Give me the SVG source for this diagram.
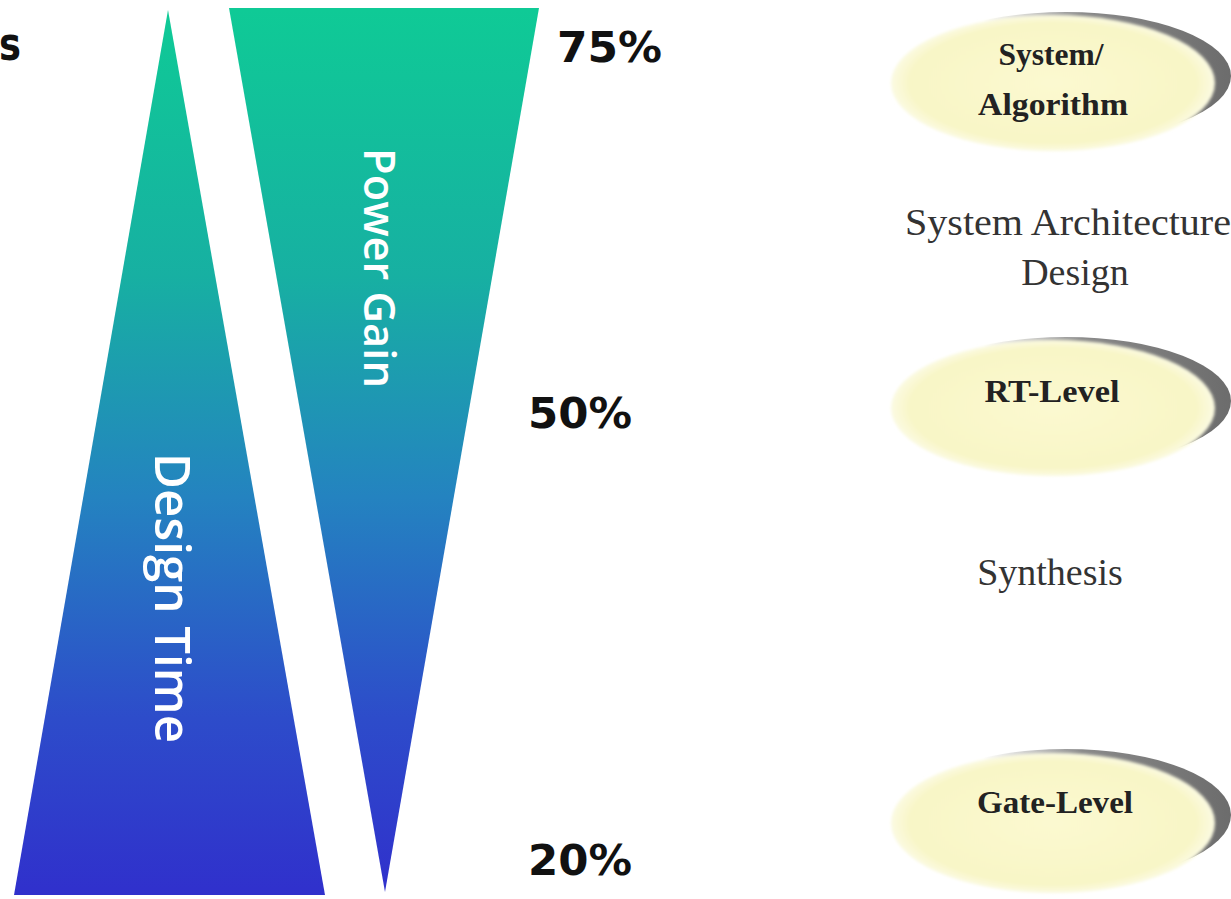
<svg xmlns="http://www.w3.org/2000/svg" width="1231" height="899" viewBox="0 0 1231 899">
  <defs>
    <linearGradient id="tri" gradientUnits="userSpaceOnUse" x1="0" y1="10" x2="0" y2="895">
      <stop offset="0" stop-color="#0fca96"/>
      <stop offset="0.3" stop-color="#17b0a2"/>
      <stop offset="0.55" stop-color="#2483c0"/>
      <stop offset="0.8" stop-color="#2d4cca"/>
      <stop offset="1" stop-color="#3030cc"/>
    </linearGradient>
    <radialGradient id="yel" cx="0.5" cy="0.5" r="0.5">
      <stop offset="0" stop-color="#fbf9d0"/>
      <stop offset="0.88" stop-color="#f8f6c6"/>
      <stop offset="1" stop-color="#fbfae2"/>
    </radialGradient>
    <linearGradient id="shd" x1="0" y1="0" x2="1" y2="0">
      <stop offset="0.25" stop-color="#ffffff"/>
      <stop offset="0.55" stop-color="#8a8a8a"/>
      <stop offset="1" stop-color="#6c6c6c"/>
    </linearGradient>
    <filter id="soft" x="-5%" y="-5%" width="110%" height="110%">
      <feGaussianBlur stdDeviation="1.5"/>
    </filter>
  </defs>
  <style>
    .pct { font-family: "DejaVu Sans", Verdana, sans-serif; font-weight: bold; font-size: 43px; fill: #111; }
    .vert { font-family: "Open Sans", "DejaVu Sans", sans-serif; font-weight: 600; fill: #ffffff; }
    .node { font-family: "Liberation Serif", "Times New Roman", serif; font-weight: bold; font-size: 32px; fill: #222; text-anchor: middle; }
    .lbl { font-family: "Liberation Serif", "Times New Roman", serif; font-size: 38px; fill: #333; }
    .shadow { fill: url(#shd); }
    .fill { fill: url(#yel); filter: url(#soft); }
  </style>
  <rect width="1231" height="899" fill="#ffffff"/>

  <text x="-1" y="60" font-family="DejaVu Sans, sans-serif" font-weight="bold" font-size="46" fill="#111" textLength="22" lengthAdjust="spacingAndGlyphs">s</text>

  <g id="design-time">
    <polygon points="168,10 14,895 325,895" fill="url(#tri)"/>
    <text class="vert" transform="translate(155,453) rotate(90)" font-size="48" textLength="290" lengthAdjust="spacingAndGlyphs">Design Time</text>
  </g>
  <g id="power-gain">
    <polygon points="229,8 539,8 385,892" fill="url(#tri)"/>
    <text class="vert" transform="translate(364,148) rotate(90)" font-size="44" textLength="240" lengthAdjust="spacingAndGlyphs">Power Gain</text>
  </g>

  <g id="percentages">
    <text class="pct" x="557" y="62" textLength="105" lengthAdjust="spacingAndGlyphs">75%</text>
    <text class="pct" x="528" y="428" textLength="104" lengthAdjust="spacingAndGlyphs">50%</text>
    <text class="pct" x="528" y="875" textLength="104" lengthAdjust="spacingAndGlyphs">20%</text>
  </g>

  <g id="node-system">
    <ellipse class="shadow" cx="1066" cy="76" rx="165" ry="64"/>
    <ellipse class="fill" cx="1053" cy="83" rx="162" ry="68"/>
    <text class="node" x="1051" y="65" textLength="105" lengthAdjust="spacingAndGlyphs">System/</text>
    <text class="node" x="1053" y="115" textLength="150" lengthAdjust="spacingAndGlyphs">Algorithm</text>
  </g>
  <g id="node-rt">
    <ellipse class="shadow" cx="1066" cy="401" rx="165" ry="64"/>
    <ellipse class="fill" cx="1053" cy="408" rx="162" ry="68"/>
    <text class="node" x="1052" y="402" textLength="135" lengthAdjust="spacingAndGlyphs">RT-Level</text>
  </g>
  <g id="node-gate">
    <ellipse class="shadow" cx="1066" cy="815" rx="165" ry="66"/>
    <ellipse class="fill" cx="1053" cy="823" rx="162" ry="70"/>
    <text class="node" x="1055" y="813" textLength="156" lengthAdjust="spacingAndGlyphs">Gate-Level</text>
  </g>

  <g id="connectors">
    <text class="lbl" x="905" y="235" textLength="326" lengthAdjust="spacingAndGlyphs">System Architecture</text>
    <text class="lbl" x="1075" y="285" text-anchor="middle">Design</text>
    <text class="lbl" x="1050" y="585" text-anchor="middle">Synthesis</text>
  </g>
</svg>
